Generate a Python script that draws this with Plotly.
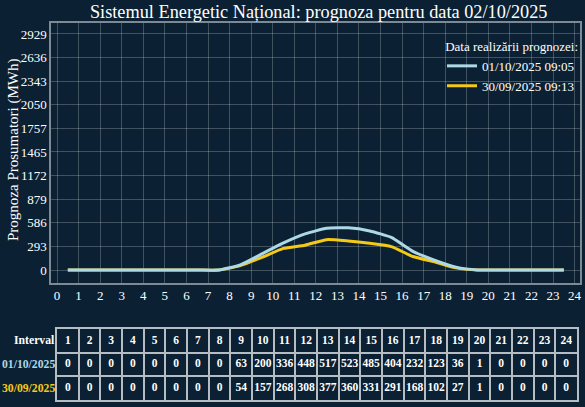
import plotly.graph_objects as go

# data
intervals = list(range(1, 25))
x_pos = [i - 0.5 for i in intervals]
prog_0110 = [0, 0, 0, 0, 0, 0, 0, 0, 63, 200, 336, 448, 517, 523, 485, 404, 232, 123, 36, 1, 0, 0, 0, 0]
prog_3009 = [0, 0, 0, 0, 0, 0, 0, 0, 54, 157, 268, 308, 377, 360, 331, 291, 168, 102, 27, 1, 0, 0, 0, 0]
label_0110 = '01/10/2025 09:05'
label_3009 = '30/09/2025 09:13'
row_labels = ['Interval', '01/10/2025', '30/09/2025']
y_ticks = [0, 292.9, 585.8, 878.7, 1171.6, 1464.5, 1757.4, 2050.3, 2343.2, 2636.1, 2929]
y_tick_text = ['0', '293', '586', '879', '1172', '1465', '1757', '2050', '2343', '2636', '2929']

BG = '#0b2133'
BLUE = '#add8e6'
YELLOW = '#f5c917'
GRID = 'rgba(255,255,255,0.22)'
CELL_LINE = '#b5bcc2'
FONT = 'Liberation Serif'

W, H = 585, 407
L, R, T, B = 0, 5, 23, 5
pw, ph = W - L - R, H - T - B


def px_x(p):
    return (p - L) / pw


def px_y(p):
    return (H - B - p) / ph


fig = go.Figure()
fig.add_trace(go.Scatter(x=x_pos, y=prog_3009, name=label_3009, mode='lines',
                         line=dict(color=YELLOW, width=3, shape='spline', smoothing=0.5),
                         legendrank=2, hoverinfo='skip'))
fig.add_trace(go.Scatter(x=x_pos, y=prog_0110, name=label_0110, mode='lines',
                         line=dict(color=BLUE, width=3, shape='spline', smoothing=0.5),
                         legendrank=1, hoverinfo='skip'))

# table under the chart, drawn on its own axes (rows 1..3 top to bottom)
table_rows = [[str(i) for i in intervals],
              [str(v) for v in prog_0110],
              [str(v) for v in prog_3009]]
for r, vals in enumerate(table_rows, start=1):
    fig.add_trace(go.Scatter(x=intervals, y=[r] * len(intervals), text=vals, mode='text',
                             xaxis='x2', yaxis='y2', showlegend=False, hoverinfo='skip',
                             textfont=dict(family=FONT, size=11.5, color='white', weight='bold')))

# row labels left of the table
label_colors = ['white', BLUE, YELLOW]
annotations = [dict(text='Prognoza Prosumatori (MWh)', textangle=-90, xref='paper', yref='paper',
                    x=px_x(13), y=px_y(150), xanchor='center', yanchor='middle',
                    showarrow=False, font=dict(family=FONT, size=15, color='white'))]
for r, (lab, col) in enumerate(zip(row_labels, label_colors), start=1):
    annotations.append(dict(text='<b>%s</b>' % lab, xref='x2', yref='y2', x=0.5, y=r,
                            xanchor='right', yanchor='middle', xshift=0, showarrow=False,
                            font=dict(family=FONT, size=11.7, color=col)))

fig.update_layout(
    width=W, height=H,
    margin=dict(l=L, r=R, t=T, b=B),
    paper_bgcolor=BG, plot_bgcolor=BG,
    font=dict(family=FONT, color='white', size=13),
    title=dict(text='Sistemul Energetic Național: prognoza pentru data 02/10/2025',
               x=px_x(316), xanchor='center', y=1 - 12 / H, yanchor='middle',
               font=dict(family=FONT, size=18.3, color='white')),
    xaxis=dict(domain=[px_x(51), 1], range=[-0.28, 24.25], tickmode='linear', tick0=0, dtick=1,
               showgrid=True, gridcolor=GRID, zeroline=False, showline=True, mirror=True,
               linecolor='#7d8a94', linewidth=1.5, automargin=False, fixedrange=True,
               tickfont=dict(family=FONT, size=13, color='white')),
    yaxis=dict(domain=[px_y(283), 1], range=[-161, 3065], tickmode='array', tickvals=y_ticks,
               ticktext=y_tick_text, showgrid=True, gridcolor=GRID, zeroline=False,
               showline=True, mirror=True, linecolor='#7d8a94', linewidth=1.5, automargin=False,
               fixedrange=True, tickfont=dict(family=FONT, size=13, color='white')),
    xaxis2=dict(domain=[px_x(57), px_x(577)], range=[0.5, 24.5], anchor='y2',
                tickmode='array', tickvals=[i + 0.5 for i in intervals[:-1]],
                showticklabels=False, ticks='', showgrid=True, gridcolor=CELL_LINE, gridwidth=1.5,
                zeroline=False, showline=True, mirror=True, linecolor=CELL_LINE, linewidth=1.5,
                automargin=False, fixedrange=True),
    yaxis2=dict(domain=[px_y(400), px_y(329)], range=[3.5, 0.5], anchor='x2',
                tickmode='array', tickvals=[1.5, 2.5],
                showticklabels=False, ticks='', showgrid=True, gridcolor=CELL_LINE, gridwidth=1.5,
                zeroline=False, showline=True, mirror=True, linecolor=CELL_LINE, linewidth=1.5,
                automargin=False, fixedrange=True),
    annotations=annotations,
    legend=dict(x=1, xanchor='right', y=px_y(34), yanchor='top', bgcolor='rgba(0,0,0,0)',
                title=dict(text='Data realizării prognozei:', side='top right',
                           font=dict(family=FONT, size=13, color='white')),
                font=dict(family=FONT, size=13, color='white'),
                itemwidth=30, tracegroupgap=0),
    showlegend=True,
    hovermode=False,
)

fig.write_html('out.html', config={'displayModeBar': False},
               post_script="document.body.style.margin='0';document.body.style.overflow='hidden';")
